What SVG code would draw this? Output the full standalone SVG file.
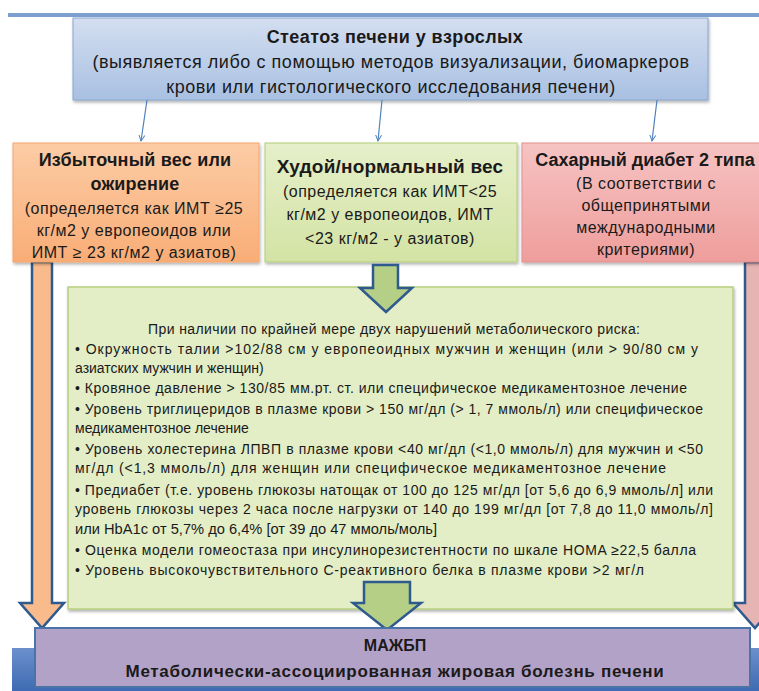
<svg xmlns="http://www.w3.org/2000/svg" width="759" height="691" viewBox="0 0 759 691">
<defs>
<linearGradient id="gBlue" x1="0" y1="0" x2="0" y2="1"><stop offset="0" stop-color="#d3def0"/><stop offset="1" stop-color="#a9c0e2"/></linearGradient>
<linearGradient id="gOrange" x1="0" y1="0" x2="0" y2="1"><stop offset="0" stop-color="#fccca6"/><stop offset="1" stop-color="#f9ad76"/></linearGradient>
<linearGradient id="gGreen" x1="0" y1="0" x2="0" y2="1"><stop offset="0" stop-color="#e6efc9"/><stop offset="1" stop-color="#d3e3a4"/></linearGradient>
<linearGradient id="gRed" x1="0" y1="0" x2="0" y2="1"><stop offset="0" stop-color="#f6c3c2"/><stop offset="1" stop-color="#ee9e9c"/></linearGradient>
<linearGradient id="gBand" x1="0" y1="0" x2="0" y2="1"><stop offset="0" stop-color="#6b90cc"/><stop offset="1" stop-color="#3e6bb3"/></linearGradient>
<filter id="sh" x="-5%" y="-5%" width="110%" height="120%"><feDropShadow dx="1" dy="2" stdDeviation="1.5" flood-color="#000" flood-opacity="0.3"/></filter>
<marker id="ah" markerWidth="8" markerHeight="8" refX="6" refY="4" orient="auto" markerUnits="userSpaceOnUse"><path d="M0,1 L6,4 L0,7" fill="none" stroke="#4f81bd" stroke-width="1"/></marker>
</defs>
<style>
text{font-family:"Liberation Sans",Arial,sans-serif;fill:#1a1a1a;text-anchor:middle}
.b{font-weight:bold}
.t1{font-size:18px;letter-spacing:0.4px}
.t2{font-size:18px;letter-spacing:0.55px}
.mt{font-size:18px;font-weight:bold;letter-spacing:0.2px}
.ms{font-size:16px;letter-spacing:0.5px}
.hd{font-size:14px}
.bl{font-size:14px;text-anchor:start}
.pm{font-size:17px;font-weight:bold;letter-spacing:0.7px}
.conn{stroke:#4f81bd;stroke-width:1.2;fill:none}
.blk{stroke:#2f5a8e;stroke-width:2.5;stroke-linejoin:miter}
</style>
<rect x="0" y="0" width="759" height="691" fill="#ffffff"/>
<rect x="8" y="13" width="751" height="4" fill="#7c9fd0"/>
<rect x="12" y="648" width="747" height="43" fill="url(#gBand)"/>

<g id="top">
<rect x="73" y="18" width="635" height="82" fill="url(#gBlue)" stroke="#86a5cf" stroke-width="1" filter="url(#sh)"/>
<text x="395" y="43" class="b t1">Стеатоз печени у взрослых</text>
<text x="391" y="68" class="t2">(выявляется либо с помощью методов визуализации, биомаркеров</text>
<text x="391" y="93" class="t2">крови или гистологического исследования печени)</text>
</g>

<g id="connectors">
<line x1="147" y1="100" x2="141" y2="141" class="conn" marker-end="url(#ah)"/>
<line x1="382" y1="100" x2="378" y2="141" class="conn" marker-end="url(#ah)"/>
<line x1="657" y1="100" x2="652" y2="141" class="conn" marker-end="url(#ah)"/>
<path d="M32,262 H52 V603 H64 L42,628 L20,603 H32 Z" fill="#f9bb8c" class="blk"/>
<path d="M745,262 H765 V603 H777 L755,628 L733,603 H745 Z" fill="#e6b4b3" class="blk"/>
</g>

<g id="overweight">
<rect x="13" y="143" width="246" height="119" fill="url(#gOrange)" stroke="#f3a66c" stroke-width="1" filter="url(#sh)"/>
<text x="135" y="166" class="mt">Избыточный вес или</text>
<text x="135" y="190" class="mt">ожирение</text>
<text x="134" y="214" class="ms">(определяется как ИМТ ≥25</text>
<text x="134" y="236" class="ms">кг/м2 у европеоидов или</text>
<text x="134" y="258" class="ms">ИМТ ≥ 23 кг/м2 у азиатов)</text>
</g>

<g id="lean">
<rect x="265" y="143" width="252" height="119" fill="url(#gGreen)" stroke="#b2cc7a" stroke-width="1" filter="url(#sh)"/>
<text x="390" y="173" class="mt" style="font-size:19px">Худой/нормальный вес</text>
<text x="390" y="197" class="ms">(определяется как ИМТ&lt;25</text>
<text x="390" y="220" class="ms">кг/м2 у европеоидов, ИМТ</text>
<text x="390" y="244" class="ms">&lt;23 кг/м2 - у азиатов)</text>
</g>

<g id="diabetes">
<rect x="522" y="143" width="245" height="119" fill="url(#gRed)" stroke="#e0908e" stroke-width="1" filter="url(#sh)"/>
<text x="645" y="166" class="mt" style="letter-spacing:0">Сахарный диабет 2 типа</text>
<text x="646" y="189" class="ms">(В соответствии с</text>
<text x="646" y="211" class="ms">общепринятыми</text>
<text x="646" y="233" class="ms">международными</text>
<text x="646" y="255" class="ms">критериями)</text>
</g>

<g id="criteria">
<rect x="68" y="287" width="665" height="322" fill="#e3edc6" stroke="#b7d07e" stroke-width="1.5" filter="url(#sh)"/>
<path d="M373,265 H398 V288 H412 L386,312 L360,288 H373 Z" fill="#b6cf86" class="blk"/>
<text x="394" y="334" class="hd" textLength="492" lengthAdjust="spacing">При наличии по крайней мере двух нарушений метаболического риска:</text>
<text x="75" y="354" class="bl" textLength="623" lengthAdjust="spacing">• Окружность талии &gt;102/88 см у европеоидных мужчин и женщин (или &gt; 90/80 см у</text>
<text x="75" y="373" class="bl">азиатских мужчин и женщин)</text>
<text x="75" y="393" class="bl" textLength="612" lengthAdjust="spacing">• Кровяное давление &gt; 130/85 мм.рт. ст. или специфическое медикаментозное лечение</text>
<text x="75" y="414" class="bl" textLength="628" lengthAdjust="spacing">• Уровень триглицеридов в плазме крови &gt; 150 мг/дл (&gt; 1, 7 ммоль/л) или специфическое</text>
<text x="75" y="433" class="bl">медикаментозное лечение</text>
<text x="75" y="454" class="bl" textLength="628" lengthAdjust="spacing">• Уровень холестерина ЛПВП в плазме крови &lt;40 мг/дл (&lt;1,0 ммоль/л) для мужчин и &lt;50</text>
<text x="75" y="473" class="bl" textLength="591" lengthAdjust="spacing">мг/дл (&lt;1,3 ммоль/л) для женщин или специфическое медикаментозное лечение</text>
<text x="75" y="495" class="bl" textLength="638" lengthAdjust="spacing">• Предиабет (т.е. уровень глюкозы натощак от 100 до 125 мг/дл [от 5,6 до 6,9 ммоль/л] или</text>
<text x="75" y="514" class="bl" textLength="638" lengthAdjust="spacing">уровень глюкозы через 2 часа после нагрузки от 140 до 199 мг/дл [от 7,8 до 11,0 ммоль/л]</text>
<text x="75" y="534" class="bl" textLength="362" lengthAdjust="spacingAndGlyphs">или HbA1c от 5,7% до 6,4% [от 39 до 47 ммоль/моль]</text>
<text x="75" y="555" class="bl" textLength="621" lengthAdjust="spacing">• Оценка модели гомеостаза при инсулинорезистентности по шкале HOMA ≥22,5 балла</text>
<text x="75" y="575" class="bl" textLength="569" lengthAdjust="spacing">• Уровень высокочувствительного С-реактивного белка в плазме крови &gt;2 мг/л</text>
<path d="M364,582 H410 V603 H421 L387,630 L353,603 H364 Z" fill="#b6cf86" class="blk"/>
</g>

<g id="mafld">
<rect x="35" y="628" width="715" height="59" fill="#b3a2c8" stroke="#4a73a8" stroke-width="2"/>
<text x="395" y="651" class="b" style="font-size:16px">МАЖБП</text>
<text x="395" y="677" class="pm">Метаболически-ассоциированная жировая болезнь печени</text>
</g>
</svg>
